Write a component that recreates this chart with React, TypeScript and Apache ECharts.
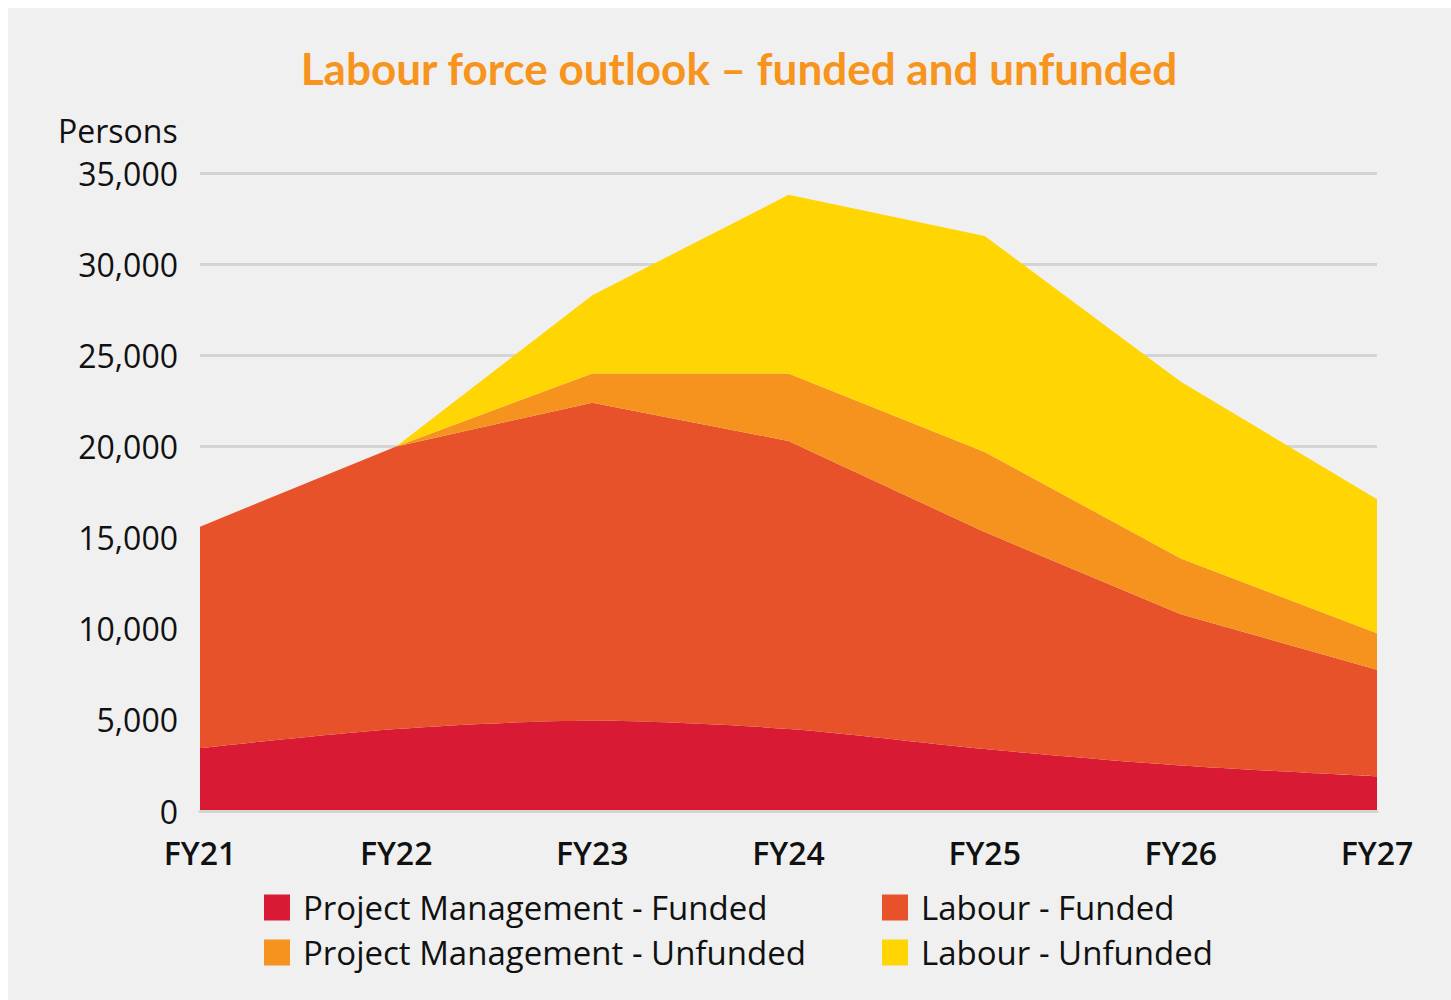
import React, { useEffect, useRef } from "react";
import * as echarts from "echarts";

const categories = ["FY21", "FY22", "FY23", "FY24", "FY25", "FY26", "FY27"];
const pmFunded = [3450, 4500, 4950, 4500, 3400, 2500, 1900];
const labourFunded = [12150, 15500, 17450, 15800, 11900, 8300, 5850];
const pmUnfunded = [0, 0, 1600, 3700, 4400, 3050, 2000];
const labourUnfunded = [0, 0, 4300, 9800, 11850, 9700, 7350];

const seriesNames = [
  "Project Management - Funded",
  "Labour - Funded",
  "Project Management - Unfunded",
  "Labour - Unfunded",
];
const colors = ["#d91a35", "#e8522a", "#f6931f", "#ffd503"];

export default function App() {
  const ref = useRef<HTMLDivElement>(null);
  useEffect(() => {
    if (!ref.current) return;
    const chart = echarts.init(ref.current, undefined, { renderer: "svg" });
    const values = [pmFunded, labourFunded, pmUnfunded, labourUnfunded];
    const font = "'Open Sans', sans-serif";
    const legendText = {
      fontFamily: font,
      fontSize: 33,
      color: "#111",
      lineHeight: 30,
      padding: [0, 0, 0, 8],
    };
    chart.setOption({
      animation: false,
      backgroundColor: "#f0f0f0",
      color: colors,
      graphic: [
        {
          type: "text",
          x: 731,
          y: 60,
          style: {
            text: "Labour force outlook – funded and unfunded",
            fill: "#f7941d",
            font: "bold 44px Lato, sans-serif",
            textAlign: "center",
            textVerticalAlign: "middle",
          },
        },
        {
          type: "text",
          x: 50,
          y: 122,
          style: {
            text: "Persons",
            fill: "#111",
            font: "500 32px 'Open Sans', sans-serif",
            textAlign: "left",
            textVerticalAlign: "middle",
          },
        },
      ],
      grid: { left: 192, right: 74, top: 165, bottom: 189 },
      legend: [
        {
          data: [seriesNames[0], seriesNames[2]],
          orient: "vertical",
          left: 256,
          top: 883,
          padding: 0,
          itemWidth: 26,
          itemHeight: 26,
          itemGap: 12,
          icon: "rect",
          textStyle: legendText,
        },
        {
          data: [seriesNames[1], seriesNames[3]],
          orient: "vertical",
          left: 874,
          top: 883,
          padding: 0,
          itemWidth: 26,
          itemHeight: 26,
          itemGap: 12,
          icon: "rect",
          textStyle: legendText,
        },
      ],
      xAxis: {
        type: "category",
        data: categories,
        boundaryGap: false,
        axisLine: { show: true, lineStyle: { color: "#d4d4d4", width: 3 } },
        axisTick: { show: false },
        axisLabel: {
          fontFamily: font,
          fontSize: 32,
          fontWeight: 600,
          color: "#111",
          margin: 28,
          lineHeight: 26,
        },
        z: 10,
      },
      yAxis: {
        type: "value",
        min: 0,
        max: 35000,
        interval: 5000,
        axisLine: { show: false },
        axisTick: { show: false },
        axisLabel: {
          fontFamily: font,
          fontSize: 32,
          fontWeight: 500,
          color: "#111",
          margin: 22,
          lineHeight: 26,
          formatter: (v: number) => v.toLocaleString("en-US"),
        },
        splitLine: { lineStyle: { color: "#d4d4d4", width: 3 } },
      },
      series: values.map((d, i) => ({
        name: seriesNames[i],
        type: "line",
        stack: "total",
        data: d,
        smooth: i === 0 ? 0.3 : false,
        symbol: "none",
        lineStyle: { width: 0 },
        areaStyle: { color: colors[i], opacity: 1 },
        itemStyle: { color: colors[i] },
      })),
    });
    return () => chart.dispose();
  }, []);
  return (
    <div
      ref={ref}
      style={{ position: "absolute", left: 8, top: 8, width: 1443, height: 992 }}
    />
  );
}
